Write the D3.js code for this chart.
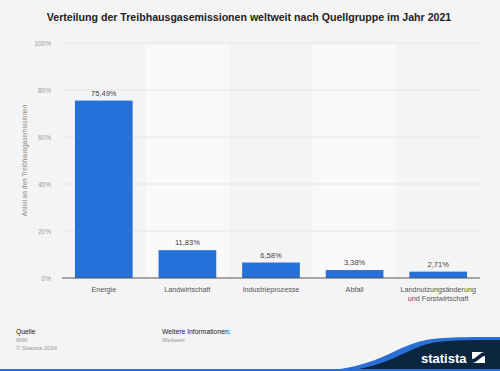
<!DOCTYPE html>
<html>
<head>
<meta charset="utf-8">
<script src="https://cdn.jsdelivr.net/npm/d3@7"></script>
<style>
  body { margin: 0; background: #f4f4f4; }
  svg { display: block; font-family: "Liberation Sans", Arial, sans-serif; }
</style>
</head>
<body>
<script>
// data
var categories = ['Energie', 'Landwirtschaft', 'Industrieprozesse', 'Abfall', 'Landnutzungsänderung|und Forstwirtschaft'];
var values     = [75.49, 11.83, 6.58, 3.38, 2.71];
var labels     = ['75,49%', '11,83%', '6,58%', '3,38%', '2,71%'];
var yTicks     = [0, 20, 40, 60, 80, 100];

// init
var W = 500, H = 371,
    margin = { top: 43, right: 20, bottom: 93, left: 62 },
    width  = W - margin.left - margin.right,
    height = H - margin.top - margin.bottom;

var svg = d3.select('body').append('svg')
    .attr('width', W)
    .attr('height', H);

// background
svg.append('rect').attr('width', W).attr('height', H).attr('fill', '#f4f4f4');

// title
svg.append('text')
    .attr('x', 249).attr('y', 21)
    .attr('text-anchor', 'middle')
    .attr('font-size', 10.6)
    .attr('font-weight', 'bold')
    .attr('fill', '#222')
    .text('Verteilung der Treibhausgasemissionen weltweit nach Quellgruppe im Jahr 2021');

var g = svg.append('g')
    .attr('transform', 'translate(' + margin.left + ',' + margin.top + ')');

// scales
var x = d3.scaleBand().domain(categories).range([0, width])
    .paddingInner(0.31).paddingOuter(0.155);
var y = d3.scaleLinear().domain([0, 100]).range([height, 0]);

// alternating band background
var step = x.step();
g.selectAll('.band')
    .data(categories.filter(function(d, i) { return i % 2 === 1; }))
    .enter().append('rect')
    .attr('class', 'band')
    .attr('x', function(d) { return x(d) - x.paddingInner() * step / 2; })
    .attr('y', 0)
    .attr('width', step)
    .attr('height', height)
    .attr('fill', '#f9f9f9');

// grid
g.selectAll('.grid')
    .data(yTicks.filter(function(d) { return d > 0; }))
    .enter().append('line')
    .attr('x1', 0).attr('x2', width)
    .attr('y1', function(d) { return y(d); })
    .attr('y2', function(d) { return y(d); })
    .attr('stroke', '#e6e6e6')
    .attr('stroke-width', 1);

// y tick labels
g.selectAll('.ytick')
    .data(yTicks)
    .enter().append('text')
    .attr('x', -11)
    .attr('y', function(d) { return y(d) + 2.5; })
    .attr('text-anchor', 'end')
    .attr('font-size', 6.5)
    .attr('fill', '#999')
    .text(function(d) { return d + '%'; });

// y axis title
svg.append('text')
    .attr('transform', 'translate(27,' + (margin.top + height / 2) + ') rotate(-90)')
    .attr('text-anchor', 'middle')
    .attr('font-size', 6.5)
    .attr('fill', '#888')
    .text('Anteil an den Treibhausgasemissionen');

// bars
g.selectAll('.bar')
    .data(values)
    .enter().append('rect')
    .attr('class', 'bar')
    .attr('x', function(d, i) { return x(categories[i]); })
    .attr('y', function(d) { return y(d); })
    .attr('width', x.bandwidth())
    .attr('height', function(d) { return height - y(d); })
    .attr('fill', '#2371d9');

// value labels
g.selectAll('.vlabel')
    .data(values)
    .enter().append('text')
    .attr('x', function(d, i) { return x(categories[i]) + x.bandwidth() / 2; })
    .attr('y', function(d) { return y(d) - 5; })
    .attr('text-anchor', 'middle')
    .attr('font-size', 7.5)
    .attr('fill', '#444')
    .text(function(d, i) { return labels[i]; });

// x axis line
g.append('line')
    .attr('x1', 0).attr('x2', width)
    .attr('y1', height).attr('y2', height)
    .attr('stroke', '#555')
    .attr('stroke-width', 1);

// x labels
categories.forEach(function(c) {
    var t = g.append('text')
        .attr('x', x(c) + x.bandwidth() / 2)
        .attr('y', height + 14)
        .attr('text-anchor', 'middle')
        .attr('font-size', 7.2)
        .attr('fill', '#555');
    c.split('|').forEach(function(line, j) {
        t.append('tspan')
            .attr('x', x(c) + x.bandwidth() / 2)
            .attr('dy', j === 0 ? 0 : 8.5)
            .text(line);
    });
});

// footer
var foot = svg.append('g').attr('font-size', 6.8);
foot.append('text').attr('x', 16).attr('y', 334).attr('fill', '#222').text('Quelle');
foot.append('text').attr('x', 16).attr('y', 342).attr('fill', '#999').attr('font-size', 6).text('WRI');
foot.append('text').attr('x', 16).attr('y', 350).attr('fill', '#999').attr('font-size', 6).text('© Statista 2024');
foot.append('text').attr('x', 162).attr('y', 334).attr('fill', '#222').text('Weitere Informationen:');
foot.append('text').attr('x', 162).attr('y', 342).attr('fill', '#999').attr('font-size', 6).text('Weltweit');

// logo wave
svg.append('path')
    .attr('d', 'M320,371 C375,368 392,349 418,342 C432,338 445,337 500,337 L500,371 Z')
    .attr('fill', '#2a6fd6');
svg.append('path')
    .attr('d', 'M345,371 C388,366 404,351 424,345 C437,341 450,340 500,340 L500,371 Z')
    .attr('fill', '#0d2640');
svg.append('rect').attr('x', 0).attr('y', 369).attr('width', W).attr('height', 2).attr('fill', '#2a6fd6');
svg.append('text')
    .attr('x', 421).attr('y', 363)
    .attr('font-size', 13)
    .attr('font-weight', 'bold')
    .attr('fill', '#fff')
    .text('statista');
svg.append('rect').attr('x', 472).attr('y', 352).attr('width', 13).attr('height', 11).attr('fill', '#fff');
svg.append('path').attr('d', 'M472,363 L472,359 C476,359 480,352 485,352 L485,356 C481,356 477,363 472,363 Z').attr('fill', '#0d2640');
</script>
</body>
</html>
